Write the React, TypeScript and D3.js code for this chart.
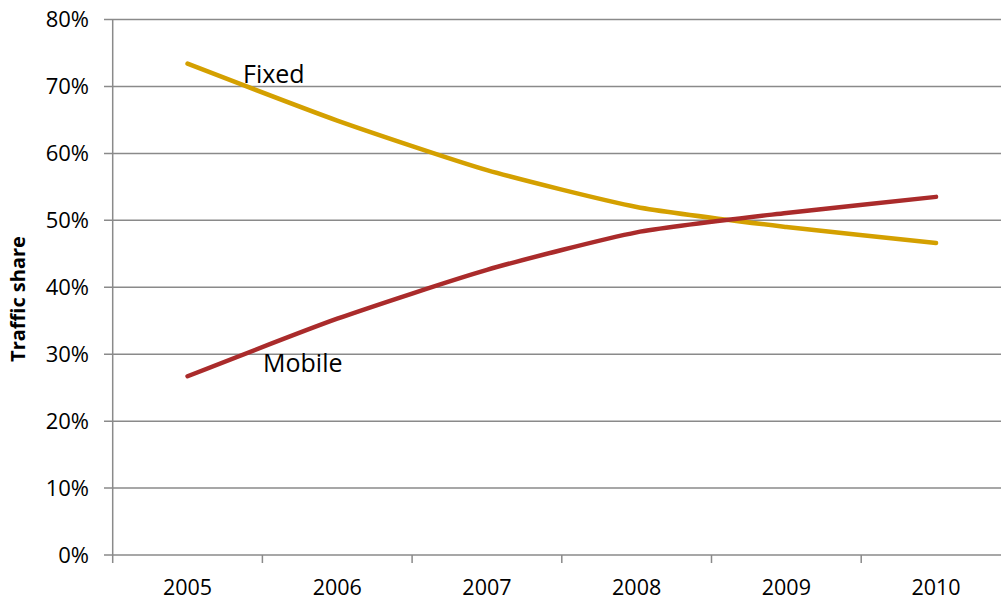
import React from "react";
import * as d3 from "d3";

const years = ["2005", "2006", "2007", "2008", "2009", "2010"];
const fixedShare = [73.4, 64.9, 57.5, 52.0, 49.0, 46.6];
const mobileShare = [26.7, 35.3, 42.6, 48.2, 51.1, 53.5];
const yTicks = [0, 10, 20, 30, 40, 50, 60, 70, 80];

const W = 1001;
const H = 604;
const left = 112.7;
const bandW = 149.7;
const top = 19.5;
const bottom = 555;
const FONT = "'Open Sans', 'Noto Sans', sans-serif";

export default function App() {
  const x = d3
    .scaleBand<string>()
    .domain(years)
    .range([left, left + bandW * years.length]);
  const y = d3.scaleLinear().domain([0, 80]).range([bottom, top]);
  const cx = (i: number) => (x(years[i]) as number) + x.bandwidth() / 2;
  const line = d3
    .line<number>()
    .x((_, i) => cx(i))
    .y((d) => y(d))
    .curve(d3.curveCardinal.tension(0.4));

  const boundaries = d3.range(years.length + 1).map((i) => left + i * x.bandwidth());

  return (
    <svg
      width={W}
      height={H}
      style={{ position: "absolute", left: 0, top: 0, background: "#fff" }}
    >
      {yTicks.map((t) => (
        <g key={t}>
          <line x1={104} x2={W} y1={y(t)} y2={y(t)} stroke="#8a8a8a" strokeWidth={1.5} />
          <text
            x={89}
            y={y(t)}
            dy="0.36em"
            textAnchor="end"
            fontFamily={FONT}
            fontSize={22}
            fill="#000"
          >
            {t}%
          </text>
        </g>
      ))}
      <line x1={left} x2={left} y1={top} y2={bottom + 8} stroke="#8a8a8a" strokeWidth={1.5} />
      {boundaries.slice(1).map((b, i) => (
        <line key={i} x1={b} x2={b} y1={bottom} y2={bottom + 8} stroke="#8a8a8a" strokeWidth={1.5} />
      ))}
      {years.map((yr, i) => (
        <text
          key={yr}
          x={cx(i)}
          y={595}
          textAnchor="middle"
          fontFamily={FONT}
          fontSize={21.5}
          fill="#000"
        >
          {yr}
        </text>
      ))}
      <text
        transform={`translate(25, 299) rotate(-90)`}
        textAnchor="middle"
        fontFamily={FONT}
        fontWeight="bold"
        fontSize={20}
        fill="#000"
      >
        Traffic share
      </text>
      <path
        d={line(fixedShare) || ""}
        fill="none"
        stroke="#D4A000"
        strokeWidth={4.5}
        strokeLinecap="round"
        strokeLinejoin="round"
      />
      <path
        d={line(mobileShare) || ""}
        fill="none"
        stroke="#AA2B2B"
        strokeWidth={4.5}
        strokeLinecap="round"
        strokeLinejoin="round"
      />
      <text x={243} y={83.3} fontFamily={FONT} fontSize={25} fill="#000">
        Fixed
      </text>
      <text x={263} y={371.7} fontFamily={FONT} fontSize={25} fill="#000">
        Mobile
      </text>
    </svg>
  );
}
